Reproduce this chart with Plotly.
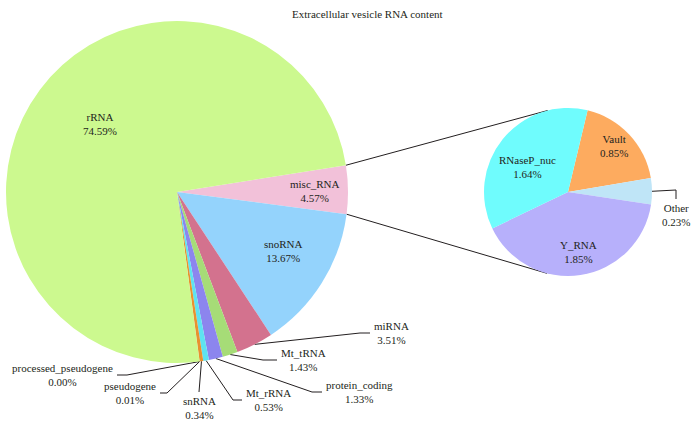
import math
import plotly.graph_objects as go

W, H = 695, 421

# Main pie, listed clockwise starting from misc_RNA
rna_types = ["misc_RNA", "snoRNA", "miRNA", "Mt_tRNA", "protein_coding",
             "Mt_rRNA", "snRNA", "pseudogene", "processed_pseudogene", "rRNA"]
rna_pct = [4.57, 13.67, 3.51, 1.43, 1.33, 0.53, 0.34, 0.01, 0.00, 74.59]
rna_colors = ["#f2c1d9", "#94d3fc", "#d3728e", "#a6dc77", "#8c85ee",
              "#5ee3f0", "#e8922f", "#e8922f", "#e8922f", "#ccf98f"]

# Breakdown of misc_RNA, clockwise starting from Vault
misc_types = ["Vault", "Other", "Y_RNA", "RNaseP_nuc"]
misc_pct = [0.85, 0.23, 1.85, 1.64]
misc_colors = ["#fdab5f", "#bfe5f7", "#b7b0fb", "#6ffcfd"]

# geometry in pixels
main_c, main_r, main_rot = (177, 192), 171, 81
small_c, small_r, small_rot = (568, 192), 84, 13.5

# label text centres for slices labelled inside
inside_pos = {"rRNA": (100, 124), "misc_RNA": (315, 191), "snoRNA": (283, 251),
              "Vault": (614, 146), "Other": None, "Y_RNA": (578, 252),
              "RNaseP_nuc": (527, 167)}
# leader lines: elbow, end, side of text
leaders = {
    "miRNA": ((360, 333), (370, 333), "left"),
    "Mt_tRNA": ((263, 360), (277, 360), "left"),
    "protein_coding": ((312, 392), (322, 392), "left"),
    "Mt_rRNA": ((233, 400), (242, 400), "left"),
    "snRNA": ((199, 392), (199, 392), "top"),
    "pseudogene": ((167, 393), (160, 393), "right"),
    "processed_pseudogene": ((127, 375), (117, 375), "right"),
    "Other": ((676, 190), (676, 199), "top"),
}


def mid_angles(vals, rot):
    tot = sum(vals)
    out, acc = [], 0
    for v in vals:
        out.append(rot + (acc + v / 2) / tot * 360)
        acc += v
    return out


def edge(c, r, ang):
    a = math.radians(ang)
    return c[0] + r * math.sin(a), c[1] - r * math.cos(a)


def dom(c, r):
    return dict(x=[(c[0] - r) / W, (c[0] + r) / W],
                y=[1 - (c[1] + r) / H, 1 - (c[1] - r) / H])


fig = go.Figure()
fig.add_trace(go.Pie(labels=rna_types, values=rna_pct, sort=False,
                     direction="clockwise", rotation=main_rot,
                     marker=dict(colors=rna_colors), textinfo="none",
                     hoverinfo="label+value", domain=dom(main_c, main_r),
                     showlegend=False))
fig.add_trace(go.Pie(labels=misc_types, values=misc_pct, sort=False,
                     direction="clockwise", rotation=small_rot,
                     marker=dict(colors=misc_colors), textinfo="none",
                     hoverinfo="label+value", domain=dom(small_c, small_r),
                     showlegend=False))

font = dict(family="Liberation Serif", size=11, color="#231f20")
annotations = []
line_x, line_y = [], []


def add_labels(names, vals, c, r, rot):
    for name, v, ang in zip(names, vals, mid_angles(vals, rot)):
        text = "%s<br>%.2f%%" % (name, v)
        if name in leaders:
            elbow, end, side = leaders[name]
            sx, sy = edge(c, r, ang)
            line_x.extend([sx, elbow[0], end[0], None])
            line_y.extend([sy, elbow[1], end[1], None])
            if side == "left":
                a = dict(x=end[0] + 2, y=end[1], xanchor="left", yanchor="middle")
            elif side == "right":
                a = dict(x=end[0] - 2, y=end[1], xanchor="right", yanchor="middle")
            else:
                a = dict(x=end[0], y=end[1] + 1, xanchor="center", yanchor="top")
        else:
            px, py = inside_pos[name]
            a = dict(x=px, y=py, xanchor="center", yanchor="middle")
        a.update(text=text, showarrow=False, align="center", font=font,
                 xref="x", yref="y")
        annotations.append(a)


add_labels(rna_types, rna_pct, main_c, main_r, main_rot)
add_labels(misc_types, misc_pct, small_c, small_r, small_rot)

# connectors between misc_RNA slice and the breakdown pie
misc_start = main_rot
misc_end = main_rot + rna_pct[0] / sum(rna_pct) * 360
for a_main, a_small in [(misc_start, 346), (misc_end, 194.5)]:
    p1 = edge(main_c, main_r, a_main)
    p2 = edge(small_c, small_r, a_small)
    line_x.extend([p1[0], p2[0], None])
    line_y.extend([p1[1], p2[1], None])

fig.add_trace(go.Scatter(x=line_x, y=line_y, mode="lines",
                         line=dict(color="#231f20", width=1),
                         hoverinfo="skip", showlegend=False))

fig.update_layout(
    width=W, height=H,
    margin=dict(l=0, r=0, t=0, b=0),
    paper_bgcolor="white", plot_bgcolor="rgba(0,0,0,0)",
    xaxis=dict(range=[0, W], visible=False, domain=[0, 1]),
    yaxis=dict(range=[H, 0], visible=False, domain=[0, 1]),
    annotations=annotations + [dict(text="Extracellular vesicle RNA content",
                                    x=367, y=14, xref="x", yref="y",
                                    showarrow=False, font=font)],
)

# drop the default page margin so the figure sits at the window's corner
fig.write_html("out.html", config={"displayModeBar": False},
               post_script="document.body.style.margin='0px';")
